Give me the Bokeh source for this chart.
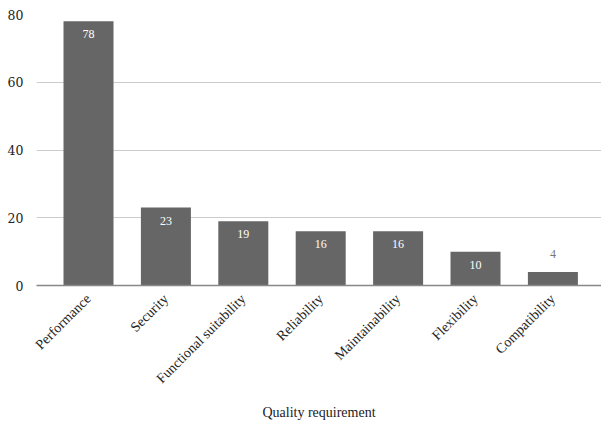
from bokeh.plotting import figure
from bokeh.models import ColumnDataSource, Range1d, FixedTicker, LabelSet
from bokeh.embed import file_html
from bokeh.resources import INLINE
import math

categories = ["Performance", "Security", "Functional suitability", "Reliability",
              "Maintainability", "Flexibility", "Compatibility"]
counts = [78, 23, 19, 16, 16, 10, 4]
y_ticks = [0, 20, 40, 60, 80]
x_title = "Quality requirement"

xs = list(range(len(categories)))
inside = [v >= 8 for v in counts]

bars = ColumnDataSource(dict(x=xs, top=counts))
lab_in = ColumnDataSource(dict(x=[x for x, f in zip(xs, inside) if f],
                               y=[v for v, f in zip(counts, inside) if f],
                               t=[str(v) for v, f in zip(counts, inside) if f]))
lab_out = ColumnDataSource(dict(x=[x for x, f in zip(xs, inside) if not f],
                                y=[v for v, f in zip(counts, inside) if not f],
                                t=[str(v) for v, f in zip(counts, inside) if not f]))

p = figure(width=601, height=422, output_backend="svg", toolbar_location=None,
           x_range=Range1d(-0.672, 6.628), y_range=Range1d(0, 80),
           min_border_left=36, min_border_right=0, min_border_top=14, min_border_bottom=137)
p.outline_line_color = None
p.background_fill_color = "white"
p.border_fill_color = "white"

p.vbar(x="x", top="top", bottom=0, width=0.646, source=bars,
       fill_color="#666666", line_color=None)

p.add_layout(LabelSet(x="x", y="y", text="t", source=lab_in, y_offset=-13,
                      text_align="center", text_baseline="middle",
                      text_color="white", text_font="DejaVu Serif", text_font_size="12px"))
p.add_layout(LabelSet(x="x", y="y", text="t", source=lab_out, y_offset=18,
                      text_align="center", text_baseline="middle",
                      text_color="#777777", text_font="DejaVu Serif", text_font_size="12px"))

p.xgrid.grid_line_color = None
p.ygrid.grid_line_color = "#cccccc"
p.ygrid.ticker = FixedTicker(ticks=y_ticks)

p.yaxis.ticker = FixedTicker(ticks=y_ticks)
p.yaxis.axis_line_color = None
p.yaxis.major_tick_line_color = None
p.yaxis.minor_tick_line_color = None
p.yaxis.major_label_standoff = 7
p.yaxis.major_label_text_font = "DejaVu Serif"
p.yaxis.major_label_text_font_size = "12.5px"
p.yaxis.major_label_text_color = "#222222"

p.xaxis.ticker = FixedTicker(ticks=xs)
p.xaxis.major_label_overrides = {i: c for i, c in enumerate(categories)}
p.xaxis.major_label_orientation = math.pi / 4
p.xaxis.axis_line_color = "#888888"
p.xaxis.axis_line_width = 1.5
p.xaxis.major_tick_line_color = None
p.xaxis.minor_tick_line_color = None
p.xaxis.major_label_standoff = 5
p.xaxis.major_label_text_font = "Liberation Serif"
p.xaxis.major_label_text_font_size = "14px"
p.xaxis.major_label_text_color = "#222222"
p.xaxis.axis_label = x_title
p.xaxis.axis_label_text_font = "Liberation Serif"
p.xaxis.axis_label_text_font_size = "14px"
p.xaxis.axis_label_text_font_style = "normal"
p.xaxis.axis_label_text_color = "#222222"
p.xaxis.axis_label_standoff = 10

open("out.html", "w").write(file_html(p, INLINE))
